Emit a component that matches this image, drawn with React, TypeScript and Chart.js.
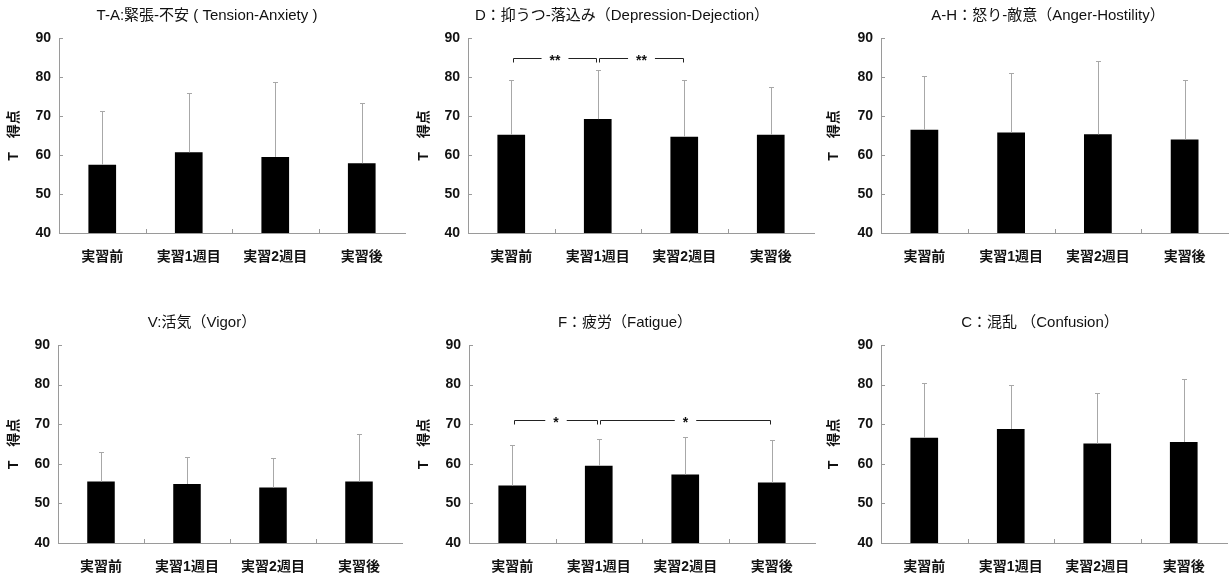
import React, { useEffect, useRef } from "react";
import { Chart, registerables } from "chart.js";

Chart.register(...registerables);

// ---------- data ----------
const categories = ["実習前", "実習1週目", "実習2週目", "実習後"];
const yTickValues = [40, 50, 60, 70, 80, 90];
const yAxisTitle = "T　得点";

const titleTA = "T-A:緊張-不安 ( Tension-Anxiety )";
const titleD = "D：抑うつ-落込み（Depression-Dejection）";
const titleAH = "A-H：怒り-敵意（Anger-Hostility）";
const titleV = "V:活気（Vigor）";
const titleF = "F：疲労（Fatigue）";
const titleC = "C：混乱 （Confusion）";

const meanTA = [57.5, 60.7, 59.5, 57.9];
const sdTA = [13.9, 15.2, 19.2, 15.5];
const meanD = [65.2, 69.2, 64.7, 65.2];
const sdD = [14.0, 12.7, 14.6, 12.3];
const meanAH = [66.5, 65.8, 65.3, 64.0];
const sdAH = [13.8, 15.2, 18.9, 15.2];
const meanV = [55.5, 54.9, 54.0, 55.5];
const sdV = [7.6, 6.8, 7.4, 11.9];
const meanF = [54.5, 59.5, 57.3, 55.3];
const sdF = [10.2, 6.7, 9.4, 10.6];
const meanC = [66.6, 68.8, 65.1, 65.5];
const sdC = [13.7, 11.1, 12.9, 15.8];

type Bracket = { from: number; to: number; value: number; label: string };
const bracketsD: Bracket[] = [
  { from: 0, to: 1, value: 85, label: "**" },
  { from: 1, to: 2, value: 85, label: "**" },
];
const bracketsF: Bracket[] = [
  { from: 0, to: 1, value: 71, label: "*" },
  { from: 1, to: 3, value: 71, label: "*" },
];

// ---------- styling / layout ----------
const FONT = "'Liberation Sans', 'Noto Sans CJK JP', Arial, sans-serif";
const AXIS_COLOR = "#9a9a9a";
const ERR_COLOR = "#a8a8a8";

interface Panel {
  title: string;
  means: number[];
  sd: number[];
  brackets: Bracket[];
  left: number;
  top: number;
  width: number;
  height: number;
  plotLeft: number;
  plotRight: number;
  plotTop: number;
  plotBottom: number;
  titleX: number;
  titleY: number;
}

const panels: Panel[] = [
  { title: titleTA, means: meanTA, sd: sdTA, brackets: [], left: 0, top: 0, width: 410, height: 288, plotLeft: 59, plotRight: 405, plotTop: 38, plotBottom: 233, titleX: 207, titleY: 15.5 },
  { title: titleD, means: meanD, sd: sdD, brackets: bracketsD, left: 410, top: 0, width: 410, height: 288, plotLeft: 58, plotRight: 404, plotTop: 38, plotBottom: 233, titleX: 212, titleY: 15.5 },
  { title: titleAH, means: meanAH, sd: sdAH, brackets: [], left: 820, top: 0, width: 409, height: 288, plotLeft: 61, plotRight: 408, plotTop: 38, plotBottom: 233, titleX: 228, titleY: 15.5 },
  { title: titleV, means: meanV, sd: sdV, brackets: [], left: 0, top: 288, width: 410, height: 288, plotLeft: 58, plotRight: 402, plotTop: 57, plotBottom: 255, titleX: 202, titleY: 34.5 },
  { title: titleF, means: meanF, sd: sdF, brackets: bracketsF, left: 410, top: 288, width: 410, height: 288, plotLeft: 59, plotRight: 405, plotTop: 57, plotBottom: 255, titleX: 215, titleY: 34.5 },
  { title: titleC, means: meanC, sd: sdC, brackets: [], left: 820, top: 288, width: 409, height: 288, plotLeft: 61, plotRight: 407, plotTop: 57, plotBottom: 255, titleX: 220, titleY: 34.5 },
];

function makePlugin(p: Panel) {
  return {
    id: "decor",
    afterDatasetsDraw(chart: any) {
      const ctx = chart.ctx as CanvasRenderingContext2D;
      const xs = chart.scales.x;
      const ys = chart.scales.y;
      const area = chart.chartArea;
      const meta = chart.getDatasetMeta(0);
      ctx.save();
      // chart title
      ctx.fillStyle = "#111";
      ctx.font = `15px ${FONT}`;
      ctx.textAlign = "center";
      ctx.textBaseline = "middle";
      ctx.fillText(p.title, p.titleX, p.titleY);
      // error bars
      ctx.strokeStyle = ERR_COLOR;
      ctx.lineWidth = 1;
      meta.data.forEach((bar: any, i: number) => {
        const x = Math.round(bar.x) + 0.5;
        const yTop = Math.round(ys.getPixelForValue(p.means[i] + p.sd[i])) + 0.5;
        const yBase = bar.y;
        ctx.beginPath();
        ctx.moveTo(x, yBase);
        ctx.lineTo(x, yTop);
        ctx.moveTo(x - 2.5, yTop);
        ctx.lineTo(x + 2.5, yTop);
        ctx.stroke();
      });
      // axis tick marks (inward)
      ctx.strokeStyle = AXIS_COLOR;
      ctx.beginPath();
      yTickValues.forEach((v) => {
        const y = Math.round(ys.getPixelForValue(v)) + 0.5;
        ctx.moveTo(area.left, y);
        ctx.lineTo(area.left + 4, y);
      });
      for (let i = 0; i < categories.length - 1; i++) {
        const x = Math.round((xs.getPixelForValue(i) + xs.getPixelForValue(i + 1)) / 2) + 0.5;
        ctx.moveTo(x, area.bottom);
        ctx.lineTo(x, area.bottom - 4);
      }
      ctx.stroke();
      // significance brackets
      ctx.strokeStyle = "#222";
      ctx.fillStyle = "#111";
      ctx.font = `bold 14px ${FONT}`;
      p.brackets.forEach((b) => {
        const x1 = Math.round(xs.getPixelForValue(b.from) + 1.5) + 0.5;
        const x2 = Math.round(xs.getPixelForValue(b.to) - 1.5) + 0.5;
        const y = Math.round(ys.getPixelForValue(b.value)) + 0.5;
        const mid = (x1 + x2) / 2;
        const tw = ctx.measureText(b.label).width;
        const gl = mid - tw / 2 - 8;
        const gr = mid + tw / 2 + 8;
        ctx.beginPath();
        ctx.moveTo(x1, y + 4);
        ctx.lineTo(x1, y);
        ctx.lineTo(gl, y);
        ctx.moveTo(gr, y);
        ctx.lineTo(x2, y);
        ctx.lineTo(x2, y + 4);
        ctx.stroke();
        ctx.fillText(b.label, mid, y + 3);
      });
      ctx.restore();
    },
  };
}

function PanelChart({ p }: { p: Panel }) {
  const ref = useRef<HTMLCanvasElement | null>(null);
  useEffect(() => {
    if (!ref.current) return;
    const chart = new Chart(ref.current, {
      type: "bar",
      data: {
        labels: categories,
        datasets: [
          {
            label: p.title,
            data: p.means,
            backgroundColor: "#000",
            borderWidth: 0,
            barPercentage: 0.32,
            categoryPercentage: 1,
          },
        ],
      },
      options: {
        responsive: false,
        animation: false,
        devicePixelRatio: 1,
        layout: { padding: { left: 0, right: p.width - p.plotRight, top: p.plotTop, bottom: 0 } },
        plugins: {
          legend: { display: false },
          tooltip: { enabled: false },
          title: { display: false },
        },
        scales: {
          x: {
            type: "category",
            offset: true,
            grid: { display: false, drawTicks: false },
            border: { display: true, color: AXIS_COLOR, width: 1 },
            ticks: {
              color: "#111",
              font: { family: FONT, size: 14, weight: "bold" },
              padding: 16,
              maxRotation: 0,
              autoSkip: false,
            },
            afterFit: (s: any) => {
              s.height = p.height - p.plotBottom;
            },
          },
          y: {
            min: 40,
            max: 90,
            grid: { display: false, drawTicks: false },
            border: { display: true, color: AXIS_COLOR, width: 1 },
            ticks: {
              stepSize: 10,
              color: "#111",
              font: { family: FONT, size: 14, weight: "bold" },
              padding: 8,
            },
            title: {
              display: true,
              text: yAxisTitle,
              color: "#111",
              font: { family: FONT, size: 14, weight: "bold" },
              padding: { top: 6, bottom: 0 },
            },
            afterFit: (s: any) => {
              s.width = p.plotLeft;
            },
          },
        },
      } as any,
      plugins: [makePlugin(p)],
    });
    return () => chart.destroy();
  }, [p]);
  return (
    <canvas
      ref={ref}
      width={p.width}
      height={p.height}
      style={{ position: "absolute", left: p.left, top: p.top, width: p.width, height: p.height }}
    />
  );
}

export default function App() {
  return (
    <div style={{ position: "absolute", left: 0, top: 0, width: 1229, height: 576, background: "#fff", overflow: "hidden" }}>
      {panels.map((p, i) => (
        <PanelChart key={i} p={p} />
      ))}
    </div>
  );
}
